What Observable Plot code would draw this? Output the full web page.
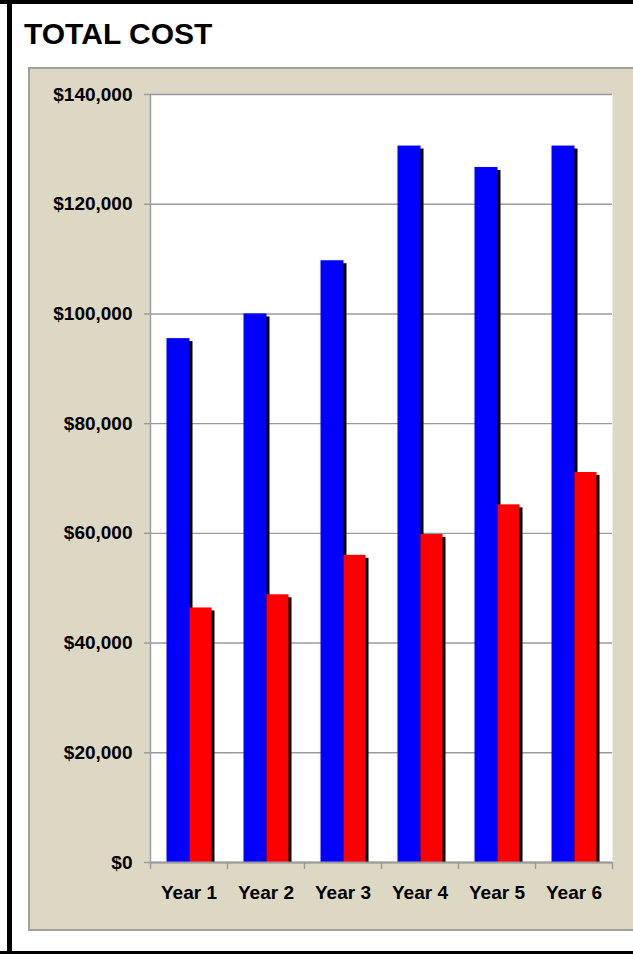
<!DOCTYPE html>
<html>
<head>
<meta charset="utf-8">
<script src="https://cdn.jsdelivr.net/npm/d3@7"></script>
<script src="https://cdn.jsdelivr.net/npm/@observablehq/plot@0.6"></script>
<style>
  html, body { margin: 0; padding: 0; background: #fff; }
  body { width: 633px; height: 954px; position: relative; overflow: hidden; font-family: "Liberation Sans", Arial, sans-serif; }
  #bTop { position: absolute; left: 0; top: 0; width: 633px; height: 4px; background: #000; }
  #bLeft { position: absolute; left: 7px; top: 0; width: 5px; height: 954px; background: #000; }
  #bBottom { position: absolute; left: 0; top: 951px; width: 633px; height: 3px; background: #000; }
  #title { position: absolute; left: 24px; top: 19px; font-size: 30px; font-weight: bold; color: #000; line-height: 1; }
  #panel { position: absolute; left: 28px; top: 67px; width: 620px; height: 860px; background: #DDD8C3; border: 2px solid #A0A0A0; border-right: none; }
  #chart { position: absolute; left: 0; top: 72px; }
</style>
</head>
<body>
<div id="bTop"></div>
<div id="bLeft"></div>
<div id="bBottom"></div>
<div id="title">TOTAL COST</div>
<div id="panel"></div>
<div id="chart"></div>
<script>
const years = ["Year 1", "Year 2", "Year 3", "Year 4", "Year 5", "Year 6"];
const costA = [95500, 100000, 109700, 130600, 126700, 130600];   // blue
const costB = [46400, 48800, 56000, 59800, 65200, 71100];        // red
const yTicks = [0, 20000, 40000, 60000, 80000, 100000, 120000, 140000];

const W = 633, H = 856, mL = 150, mR = 21, mT = 22, mB = 66;
const band = (W - mL - mR) / years.length;
const frameH = H - mT - mB;
const font = "'Liberation Sans', Arial, sans-serif";

const dataA = years.map((y, i) => ({year: y, value: costA[i]}));
const dataB = years.map((y, i) => ({year: y, value: costB[i]}));

const blueIn = {insetLeft: 16.5, insetRight: band - 39.5};
const redIn = {insetLeft: 39.5, insetRight: band - 61.5};

const chart = Plot.plot({
  width: W, height: H,
  marginLeft: mL, marginRight: mR, marginTop: mT, marginBottom: mB,
  style: {background: "transparent", fontFamily: font, overflow: "visible"},
  x: {type: "band", domain: years, padding: 0, axis: null},
  y: {domain: [0, 140000], axis: null},
  marks: [
    Plot.frame({fill: "white", stroke: "none"}),
    Plot.ruleY(yTicks, {stroke: "#9a9a9a", strokeWidth: 1.4}),
    Plot.frame({anchor: "left", stroke: "#9a9a9a", strokeWidth: 1.4}),
    Plot.axisY({ticks: yTicks, tickFormat: d3.format("$,"), tickSize: 6, tickPadding: 12,
      stroke: "#9a9a9a", strokeWidth: 1.4, fill: "black", fontSize: 19, fontWeight: "bold", label: null}),
    // category boundary ticks
    Plot.ruleX(years, {x: d => d, dx: -band / 2, insetTop: frameH, insetBottom: -7, stroke: "#9a9a9a", strokeWidth: 1.4}),
    Plot.ruleX([years[years.length - 1]], {x: d => d, dx: band / 2, insetTop: frameH, insetBottom: -7, stroke: "#9a9a9a", strokeWidth: 1.4}),
    Plot.axisX({tickSize: 0, tickPadding: 23, fill: "black", fontSize: 19, fontWeight: "bold", label: null}),
    // blue series with shadow
    Plot.barY(dataA, {x: "year", y: "value", fill: "black", insetLeft: blueIn.insetLeft + 3, insetRight: blueIn.insetRight - 3, insetBottom: 3, dy: 3}),
    Plot.barY(dataA, {x: "year", y: "value", fill: "#0000FF", ...blueIn}),
    // red series with shadow
    Plot.barY(dataB, {x: "year", y: "value", fill: "black", insetLeft: redIn.insetLeft + 3, insetRight: redIn.insetRight - 3, insetBottom: 3, dy: 3}),
    Plot.barY(dataB, {x: "year", y: "value", fill: "#FF0000", ...redIn}),
    Plot.ruleY([0], {stroke: "#9a9a9a", strokeWidth: 2})
  ]
});
document.getElementById("chart").appendChild(chart);
</script>
</body>
</html>
